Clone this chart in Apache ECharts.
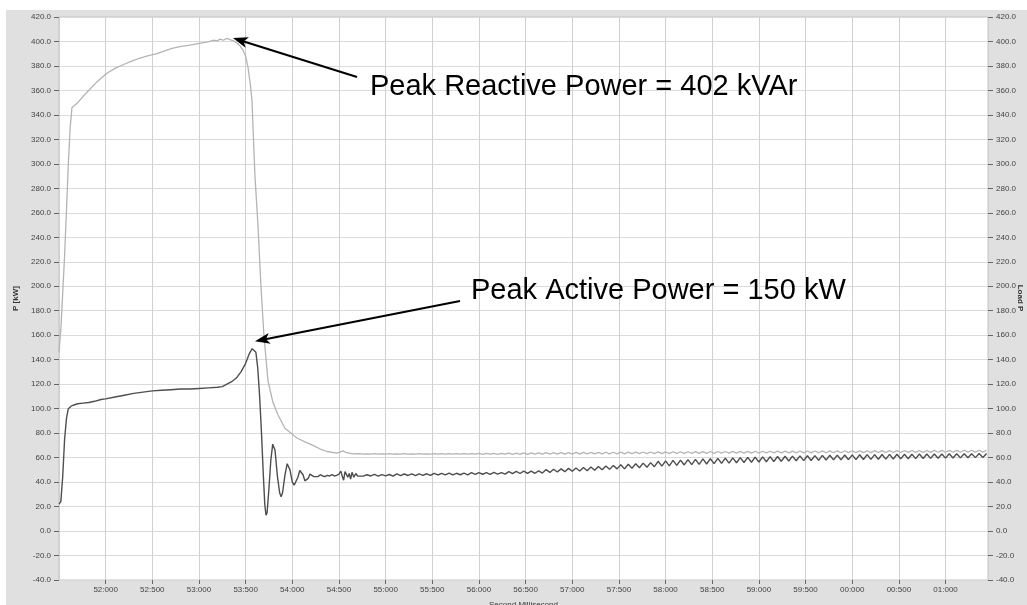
<!DOCTYPE html>
<html>
<head>
<meta charset="utf-8">
<script src="https://cdn.jsdelivr.net/npm/echarts@6/dist/echarts.min.js"></script>
<style>
html,body{margin:0;padding:0;background:#fff;}
#c{width:1027px;height:605px;}
</style>
</head>
<body>
<div id="c"></div>
<script>
// ---- Data (time in ms within the minute; 60000+ = next minute) ----
const yTicks = {min: -40, max: 420, step: 20};
const xRange = {min: 51500, max: 61455, step: 500};

// Active power P [kW], transient part [ms, kW]
const activeHead = [
  [51500,22],[51510,23],[51520,24],[51540,45],[51560,75],[51580,92],[51600,100],[51630,102],
  [51660,103],[51700,104],[51760,104.5],[51820,105],[51880,106],[51950,107.5],[52000,108],
  [52100,109.5],[52200,111],[52300,112.5],[52400,113.5],[52500,114.5],[52600,115],[52700,115.5],
  [52800,116],[52900,116],[53000,116.5],[53100,117],[53200,117.5],[53250,118],[53300,120],
  [53350,122],[53400,125],[53450,130],[53500,137],[53540,145],[53570,149],[53590,150],
  [53610,146],[53630,133],[53650,110],[53670,80],[53690,45],[53705,22],[53718,13],[53730,15],
  [53750,35],[53770,58],[53790,71],[53800,72.5],[53815,66],[53840,45],[53865,31],[53880,28],
  [53895,31],[53920,45],[53945,55],[53960,56],[53975,50],[54000,40],[54020,37.5],[54040,38],
  [54060,44],[54080,49.5],[54095,50.5],[54115,46],[54135,41],[54150,40],[54170,43],[54190,46.5],
  [54210,47],[54230,44.5],[54250,43],[54275,44.5],[54300,46],[54325,45],[54350,44.5],[54375,45.5],
  [54400,45],[54425,46],[54450,45],[54475,45.5],[54500,46.5],[54520,49],[54535,45],[54550,41.5],
  [54565,48.5],[54580,50],[54595,44],[54610,47],[54625,42.5],[54640,48],[54660,44],[54680,47],
  [54700,45]
];

// Reactive power Q [kVAr], transient part [ms, kVAr]
const reactiveHead = [
  [51500,146],[51520,165],[51540,195],[51560,225],[51580,262],[51600,300],[51620,330],[51639,346],
  [51700,350],[51757,355],[51830,361],[51907,367],[52014,374],[52100,378],[52186,381],[52280,384],
  [52368,386.5],[52460,388.5],[52550,390],[52640,392.5],[52721,394.5],[52810,396],[52904,397],
  [53000,398.5],[53086,399.5],[53150,401],[53200,400.5],[53225,402],[53260,401],[53300,402.5],
  [53332,401.5],[53370,400.5],[53407,398.7],[53440,396.5],[53471,393],[53500,388],[53525,379],
  [53550,365],[53568,352],[53579,330],[53600,290],[53632,250],[53664,200],[53696,160],[53739,123],
  [53793,105],[53846,95],[53921,84],[54000,79],[54050,76],[54130,73],[54221,70],[54300,67],
  [54371,65],[54479,63.7],[54510,64.5],[54543,65.5],[54580,64],[54650,63]
];

// Steady-state recording, sampled every 40 ms from 54.720 s
const tailStartMs = 54720;
const tailStepMs = 40;
const activeTail = [
  46.2,44.9,46.0,45.0,46.3,44.8,46.1,45.1,46.2,44.9,
  46.7,45.3,46.6,45.4,46.8,45.2,46.7,45.5,46.8,45.4,
  47.2,45.8,47.1,45.9,47.3,45.8,47.2,46.0,47.3,45.9,
  47.7,46.3,47.8,46.4,47.7,46.3,47.9,46.5,47.8,46.5,
  48.6,46.9,48.8,47.0,48.9,47.1,49.0,47.2,49.2,47.4,
  50.2,47.9,50.5,48.2,50.8,48.5,51.2,48.8,51.5,49.1,
  52.0,49.2,52.4,49.6,52.8,50.0,53.2,50.4,53.6,50.8,
  54.2,50.8,54.6,51.3,55.0,51.7,55.5,52.1,55.9,52.6,
  57.0,53.0,57.3,53.3,57.7,53.6,58.0,54.0,58.3,54.3,
  58.6,54.5,58.9,54.8,59.1,55.1,59.4,55.3,59.6,55.5,
  59.8,55.8,60.0,56.0,60.2,56.2,60.4,56.4,60.6,56.6,
  60.8,56.8,60.9,57.0,61.1,57.2,61.2,57.4,61.4,57.5,
  61.5,57.6,61.6,57.8,61.8,58.0,61.9,58.1,62.0,58.2,
  62.1,58.3,62.2,58.4,62.3,58.5,62.4,58.6,62.4,58.7,
  62.5,58.8,62.6,58.9,62.7,59.0,62.7,59.1,62.8,59.2,
  62.9,59.3,62.9,59.4,63.0,59.5,63.0,59.6,63.1,59.7,
  63.1,59.8,63.2,59.9,63.2,60.0,63.3,60.1,63.3
];
const reactiveTail = [
  63.2,62.9,63.1,62.9,63.2,62.8,63.1,62.9,63.2,62.9,
  63.1,62.9,63.2,62.8,63.1,62.9,63.2,62.9,63.1,62.9,
  63.2,62.8,63.2,62.9,63.3,62.8,63.2,62.9,63.3,62.8,
  63.3,62.8,63.4,62.7,63.4,62.8,63.5,62.7,63.5,62.8,
  63.6,62.7,63.7,62.7,63.8,62.7,63.8,62.8,63.9,62.8,
  64.0,62.8,64.0,62.8,64.1,62.9,64.1,62.9,64.2,62.9,
  64.2,63.0,64.3,63.0,64.3,63.0,64.4,63.1,64.4,63.1,
  64.5,63.1,64.5,63.2,64.5,63.2,64.6,63.2,64.6,63.3,
  64.7,63.3,64.7,63.3,64.8,63.4,64.8,63.4,64.8,63.4,
  64.9,63.5,64.9,63.5,65.0,63.5,65.0,63.6,65.0,63.6,
  65.1,63.6,65.1,63.7,65.1,63.7,65.2,63.7,65.2,63.8,
  65.2,63.8,65.3,63.8,65.3,63.9,65.3,63.9,65.4,63.9,
  65.4,63.9,65.4,64.0,65.5,64.0,65.5,64.0,65.5,64.0,
  65.6,64.1,65.6,64.1,65.6,64.1,65.6,64.1,65.7,64.2,
  65.7,64.2,65.7,64.2,65.7,64.2,65.8,64.3,65.8,64.3,
  65.8,64.3,65.8,64.3,65.9,64.4,65.9,64.4,65.9,64.4,
  65.9,64.4,66.0,64.5,66.0,64.5,66.0,64.5,66.0
];

// Annotations: [label, data point the arrow points at]
const annotations = [
  {text: 'Peak Reactive Power = 402 kVAr', at: [53364, 402.8]},
  {text: 'Peak Active Power = 150 kW', at: [53600, 155]}
];
const axisNames = {x: 'Second Millisecond', yLeft: 'P [kW]', yRight: 'Load P'};

// ---- Build ----
const toTail = arr => arr.map((v, i) => [tailStartMs + i * tailStepMs, v]);
const activeData = activeHead.concat(toTail(activeTail));
const reactiveData = reactiveHead.concat(toTail(reactiveTail));

const pad = (n, w) => String(n).padStart(w, '0');
const fmtX = v => {
  if (v % xRange.step !== 0 || v === xRange.min) return '';
  const s = Math.floor(v / 1000) % 60;
  return pad(s, 2) + ':' + pad(v % 1000, 3);
};

const FONT = 'Liberation Sans, Arial, sans-serif';
const chart = echarts.init(document.getElementById('c'), null, {renderer: 'canvas'});

const yAxisBase = {
  type: 'value', min: yTicks.min, max: yTicks.max, interval: yTicks.step,
  axisLine: {show: false, onZero: false},
  axisTick: {show: true, length: 5, lineStyle: {color: '#666', width: 1}},
  axisLabel: {fontSize: 8, color: '#444', fontFamily: FONT, margin: 8,
    formatter: v => v.toFixed(1)},
  nameLocation: 'middle', nameTextStyle: {fontSize: 8, color: '#333', fontFamily: FONT, fontWeight: 'bold'}
};

chart.setOption({
  animation: false,
  backgroundColor: '#ffffff',
  grid: {left: 59, top: 17, right: 39, bottom: 25, show: true, backgroundColor: '#ffffff',
    borderColor: '#c4c4c4', borderWidth: 1, containLabel: false, outerBoundsMode: 'none'},
  xAxis: {
    type: 'value', min: xRange.min, max: xRange.max, interval: xRange.step,
    position: 'bottom',
    axisLine: {show: false, onZero: false},
    axisTick: {show: true, length: 4, lineStyle: {color: '#666'}},
    axisLabel: {fontSize: 8, color: '#444', fontFamily: FONT, margin: 6, formatter: fmtX,
      showMinLabel: false, showMaxLabel: false},
    splitLine: {show: true, lineStyle: {color: '#d0d0d0', width: 1}},
    name: axisNames.x, nameLocation: 'middle', nameGap: 21,
    nameTextStyle: {fontSize: 8, color: '#333', fontFamily: FONT}
  },
  yAxis: [
    Object.assign({}, yAxisBase, {position: 'left', name: axisNames.yLeft, nameGap: 38,
      splitLine: {show: true, lineStyle: {color: '#dadada', width: 1}}}),
    Object.assign({}, yAxisBase, {position: 'right', splitLine: {show: false}})
  ],
  series: [
    {type: 'line', name: 'Q', data: reactiveData, showSymbol: false, symbol: 'none',
      lineStyle: {color: '#b4b4b4', width: 1.3}, z: 2},
    {type: 'line', name: 'P', data: activeData, showSymbol: false, symbol: 'none',
      lineStyle: {color: '#4e4e4e', width: 1.4}, z: 3}
  ]
});

// Frame, right axis name, annotation texts and arrows
const textPos = [[370, 87], [471, 291]];
const tailPos = [[357, 77], [460, 301]];
const g = [
  {type: 'rect', shape: {x: 6, y: 10, width: 1100, height: 700}, style: {fill: '#e0e0e0'}, z: -10, silent: true},
  {type: 'text', x: 1020, y: 298, rotation: -Math.PI / 2, z: 50,
    style: {text: axisNames.yRight, font: 'bold 8px ' + FONT, fill: '#333', align: 'center', verticalAlign: 'middle'}}
];
annotations.forEach((a, i) => {
  const tip = chart.convertToPixel({xAxisIndex: 0, yAxisIndex: 0}, a.at);
  const tail = tailPos[i];
  const dx = tip[0] - tail[0], dy = tip[1] - tail[1];
  const len = Math.hypot(dx, dy);
  const ux = dx / len, uy = dy / len, nx = -uy, ny = ux;
  const L = 15, W = 5.5;
  const bx = tip[0] - ux * L, by = tip[1] - uy * L;
  g.push({type: 'line', z: 100, shape: {x1: tail[0], y1: tail[1], x2: tip[0] - ux * L * 0.7, y2: tip[1] - uy * L * 0.7},
    style: {stroke: '#000', lineWidth: 2}});
  g.push({type: 'polygon', z: 100, shape: {points: [tip, [bx + nx * W, by + ny * W],
    [tip[0] - ux * L * 0.75, tip[1] - uy * L * 0.75], [bx - nx * W, by - ny * W]]},
    style: {fill: '#000'}});
  g.push({type: 'text', z: 100, x: textPos[i][0], y: textPos[i][1],
    style: {text: a.text, font: '29px ' + FONT, fill: '#000', textVerticalAlign: 'middle', verticalAlign: 'middle'}});
});
chart.setOption({graphic: g});
</script>
</body>
</html>
